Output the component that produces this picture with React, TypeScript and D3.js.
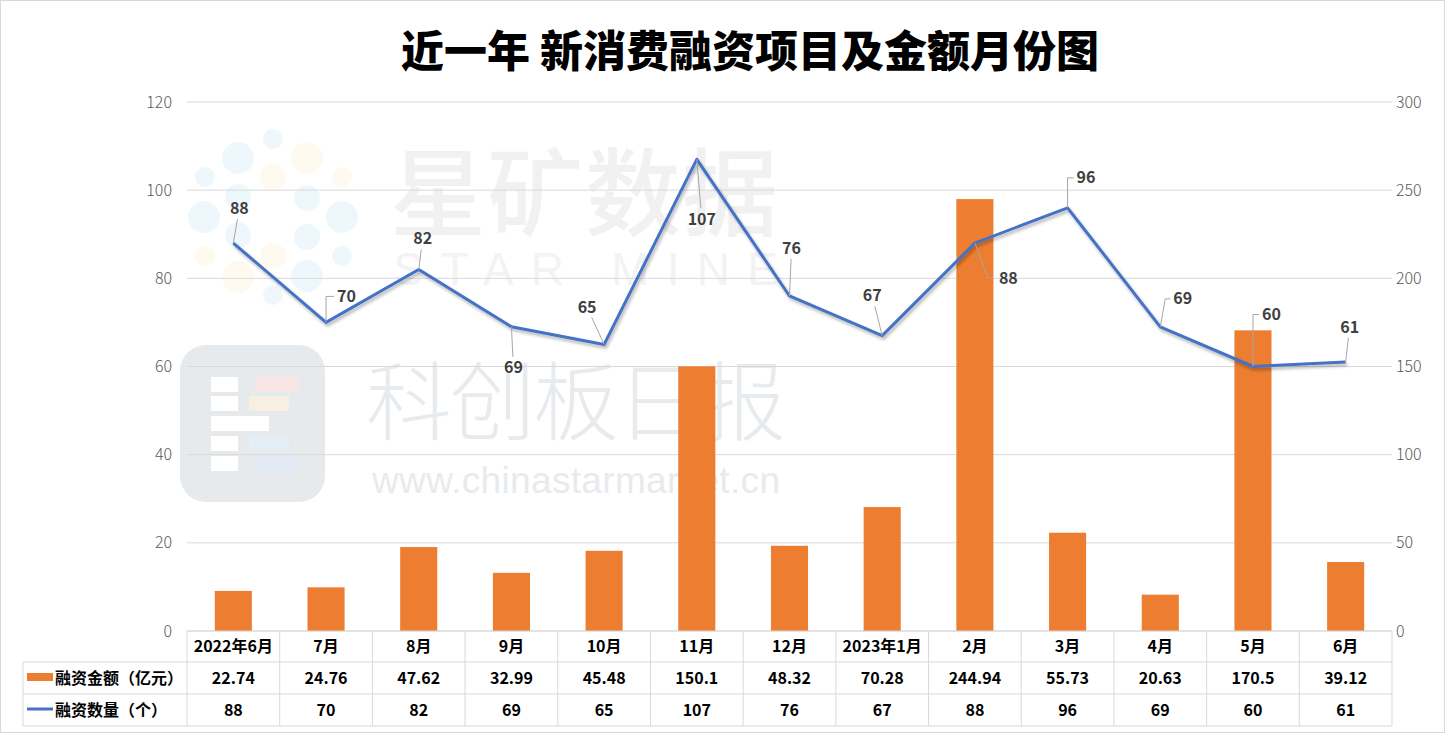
import React from "react";
import * as d3 from "d3";

const categories = ["2022年6月", "7月", "8月", "9月", "10月", "11月", "12月", "2023年1月", "2月", "3月", "4月", "5月", "6月"];
const amounts = [22.74, 24.76, 47.62, 32.99, 45.48, 150.1, 48.32, 70.28, 244.94, 55.73, 20.63, 170.5, 39.12];
const counts = [88, 70, 82, 69, 65, 107, 76, 67, 88, 96, 69, 60, 61];
const leftTicks = [0, 20, 40, 60, 80, 100, 120];
const rightTicks = [0, 50, 100, 150, 200, 250, 300];
const seriesNames = ["融资金额（亿元）", "融资数量（个）"];
const title = "近一年 新消费融资项目及金额月份图";

// label placement relative to the point (layout only)
const labelOffsets: [number, number, string][] = [
  [6, -35, "line"], [20, -26, "elbow"], [4, -31, "line"], [2, 41, "line"],
  [-17, -37, "line"], [5, 60, "line"], [2, -48, "line"], [-10, -40, "line"],
  [33, 35, "elbowDown"], [18, -30, "elbow"], [22, -28, "elbowSlant"], [18, -52, "elbow"], [4, -35, "line"],
];

const W = 1445, H = 733;
const plotL = 187, plotR = 1392, plotT = 102, plotB = 631;
const rowH = [631, 662, 694, 726];

const dots: [number, number, number, string][] = [
  [273, 139, 10, "b"], [238, 158, 16, "b"], [307, 158, 16, "y"], [205, 177, 10, "b"], [273, 177, 13, "y"],
  [342, 177, 10, "y"], [238, 197, 13, "b"], [307, 198, 13, "b"], [204, 217, 16, "b"], [342, 217, 16, "b"],
  [238, 235, 13, "b"], [307, 237, 13, "b"], [205, 256, 10, "y"], [273, 256, 13, "y"], [342, 256, 10, "b"],
  [238, 277, 16, "y"], [307, 276, 16, "b"], [273, 295, 10, "b"],
];

export default function App() {
  const x = d3.scaleBand<string>().domain(categories).range([plotL, plotR]).paddingInner(0).paddingOuter(0);
  const yL = d3.scaleLinear().domain([0, 120]).range([plotB, plotT]);
  const yR = d3.scaleLinear().domain([0, 300]).range([plotB, plotT]);
  const bw = x.bandwidth();
  const barW = bw * 0.4;
  const cx = (c: string) => (x(c) as number) + bw / 2;
  const line = d3.line<number>().x((_, i) => cx(categories[i])).y((d) => yL(d));

  const font = "'Noto Sans CJK SC', 'Microsoft YaHei', sans-serif";
  const grid = "#d9d9d9";

  return (
    <svg width={W} height={H} style={{ position: "absolute", left: 0, top: 0, background: "#fff" }} fontFamily={font}>
      <defs>
        <filter id="sh" x="-5%" y="-5%" width="110%" height="120%">
          <feDropShadow dx="1.5" dy="2.5" stdDeviation="1.5" floodColor="#000" floodOpacity="0.3" />
        </filter>
      </defs>
      <rect x={0.5} y={0.5} width={W - 1} height={H - 1} fill="#fff" stroke={grid} />

      {/* watermark */}
      <g>
        {dots.map(([a, b, r, c], i) => (
          <circle key={i} cx={a} cy={b} r={r} fill={c === "b" ? "#eef8fc" : "#fefaef"} />
        ))}
        <text x={390} y={228} fontSize={96} fill="#f1f1f1" textLength={388} fontWeight={500}>星矿数据</text>
        <text x={393} y={285} fontSize={46} fill="#f3f3f3" textLength={385} fontFamily="'Liberation Sans', sans-serif">STAR MINE</text>
        <rect x={180} y={345} width={145} height={157} rx={26} fill="#e7eaed" />
        <rect x={211} y={377} width={27} height={15} fill="#fff" />
        <rect x={211} y={396} width={27} height={15} fill="#fff" />
        <rect x={211} y={416} width={58} height={15} fill="#fff" />
        <rect x={211} y={436} width={27} height={15} fill="#fff" />
        <rect x={211} y={456} width={27} height={15} fill="#fff" />
        <rect x={255} y={377} width={43} height={15} fill="#f8e6e5" />
        <rect x={249} y={396} width={40} height={15} fill="#f8efe3" />
        <rect x={249} y={436} width={40} height={15} fill="#e4eef6" />
        <rect x={255} y={456} width={43} height={15} fill="#e4e9f6" />
        <text x={366} y={434} fontSize={86} fill="#e8ebee" textLength={420} fontWeight={300}>科创板日报</text>
        <text x={372} y={493} fontSize={37} fill="#e8ebee" textLength={408} fontFamily="'Liberation Sans', sans-serif">www.chinastarmarket.cn</text>
      </g>

      {/* title */}
      <text x={750} y={67} fontSize={43} fontWeight={900} textAnchor="middle" fill="#000">{title}</text>

      {/* gridlines */}
      {leftTicks.map((t) => (
        <line key={t} x1={plotL} x2={plotR} y1={yL(t)} y2={yL(t)} stroke={grid} strokeWidth={1} />
      ))}
      {leftTicks.map((t) => (
        <text key={"l" + t} x={172} y={yL(t)} dy="0.35em" fontSize={16} textAnchor="end" fill="#595959" fontWeight={300}>{t}</text>
      ))}
      {rightTicks.map((t) => (
        <text key={"r" + t} x={1396} y={yR(t)} dy="0.35em" fontSize={16} textAnchor="start" fill="#595959" fontWeight={300}>{t}</text>
      ))}

      {/* bars */}
      {amounts.map((v, i) => (
        <rect key={i} x={cx(categories[i]) - barW / 2} y={yR(v)} width={barW} height={plotB - yR(v)} fill="#ED7D31" />
      ))}

      {/* line */}
      <path d={line(counts) as string} fill="none" stroke="#4472C4" strokeWidth={3} strokeLinejoin="round" filter="url(#sh)" />

      {/* labels with leader lines */}
      {counts.map((v, i) => {
        const px = cx(categories[i]);
        const py = yL(v);
        const [dx, dy, kind] = labelOffsets[i];
        const lx = px + dx, ly = py + dy;
        let d = "";
        if (kind === "elbow") d = `M${px},${py}V${ly}H${lx - 12}`;
        else if (kind === "elbowDown") d = `M${px},${py}L${lx - 20},${ly}H${lx - 15}`;
        else if (kind === "elbowSlant") d = `M${px},${py}L${px + 5},${ly}H${lx - 12}`;
        else {
          const len = Math.hypot(dx, dy);
          const gap = 11;
          const ex = px + dx * (1 - gap / len), ey = py + dy * (1 - gap / len);
          d = `M${px},${py}L${ex},${ey}`;
        }
        return (
          <g key={i}>
            <path d={d} fill="none" stroke="#a6a6a6" strokeWidth={1} />
            <text x={lx} y={ly} dy="0.35em" fontSize={16} fontWeight={700} textAnchor={kind.startsWith("elbow") ? "start" : "middle"} dx={kind.startsWith("elbow") ? -9 : 0} fill="#404040">{v}</text>
          </g>
        );
      })}

      {/* data table */}
      <g>
        <line x1={plotL} x2={plotR} y1={rowH[0]} y2={rowH[0]} stroke={grid} />
        {rowH.slice(1).map((y) => (
          <line key={y} x1={23} x2={plotR} y1={y} y2={y} stroke={grid} />
        ))}
        <line x1={23} x2={23} y1={rowH[1]} y2={rowH[3]} stroke={grid} />
        {categories.map((c, i) => (
          <line key={"v" + i} x1={x(c) as number} x2={x(c) as number} y1={rowH[0]} y2={rowH[3]} stroke={grid} />
        ))}
        <line x1={plotR} x2={plotR} y1={rowH[0]} y2={rowH[3]} stroke={grid} />
        {categories.map((c, i) => (
          <g key={"c" + i} fontSize={16} fontWeight={700} textAnchor="middle" fill="#000">
            <text x={cx(c)} y={(rowH[0] + rowH[1]) / 2} dy="0.35em">{c}</text>
            <text x={cx(c)} y={(rowH[1] + rowH[2]) / 2} dy="0.35em">{amounts[i]}</text>
            <text x={cx(c)} y={(rowH[2] + rowH[3]) / 2} dy="0.35em">{counts[i]}</text>
          </g>
        ))}
        <rect x={27} y={673} width={26} height={8} fill="#ED7D31" />
        <line x1={27} x2={53} y1={709} y2={709} stroke="#4472C4" strokeWidth={3} />
        <text x={55} y={(rowH[1] + rowH[2]) / 2} dy="0.35em" fontSize={16} fontWeight={700} fill="#000">{seriesNames[0]}</text>
        <text x={55} y={(rowH[2] + rowH[3]) / 2} dy="0.35em" fontSize={16} fontWeight={700} fill="#000">{seriesNames[1]}</text>
      </g>
    </svg>
  );
}
